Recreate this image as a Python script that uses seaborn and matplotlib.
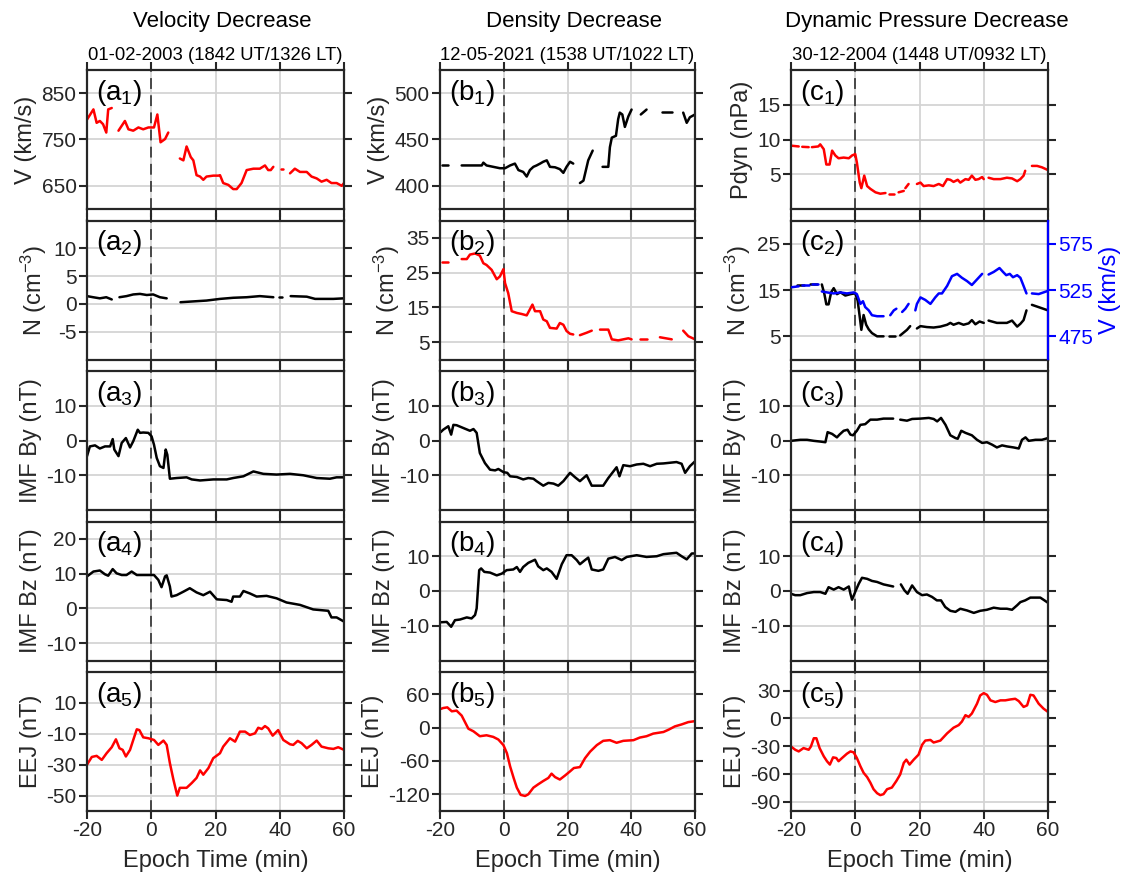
import numpy as np
import pandas as pd
import matplotlib
matplotlib.use("Agg")
import matplotlib.pyplot as plt
import seaborn as sns

nan = np.nan

# ---------------- data (epoch time in min, NaN = data gap) ----------------
# Column a : velocity decrease
t_a1 = [-20, -18, -17, -16, -15, -14, -13.4, -12.3, nan,
        -10.2, -8.2, -7.1, -5.6, -4, -2.5, -0.9, 0.85, 1.9, 2.9, 4.3, 5.3, nan,
        8.9, 10, 11, 12.3, 13.1, 14.1, 15.2, 16.2, 17.2, 19.3, 20.9, 21.4, 22.4, 24, 25.5, 26.6,
        28.1, 29.7, 31.8, 33.8, 35.4, 36.4, 37.2, 38, nan,
        40.3, 40.9, nan,
        43.2, 44.7, 46.3, 48.4, 49.9, 51.5, 53, 54.6, 56.1, 57.7, 59.3, 60]
v_a1 = [793, 815, 786, 790, 783, 765, 815, 818, nan,
        769, 790, 772, 769, 776, 772, 776, 776, 804, 744, 751, 765, nan,
        709, 705, 735, 712, 705, 673, 670, 663, 670, 672, 672, 673, 656, 652, 643, 643,
        656, 684, 687, 687, 694, 684, 684, 691, nan,
        687, 687, nan,
        677, 687, 680, 680, 670, 666, 659, 663, 656, 656, 650, 656]

t_a2 = [-20, -18.1, -16, -14, -12.3, nan,
        -9.9, -7.7, -5.6, -3.5, -1.4, 0.6, 2.7, 4.8, nan,
        9.1, 13.1, 17.2, 21.4, 25.5, 29.7, 33.8, 38, nan,
        39.8, 40.6, nan,
        43.4, 48.4, 51, 56.7, 60]
n_a2 = [1.4, 1.2, 1.0, 1.2, 0.8, nan,
        1.2, 1.4, 1.7, 1.8, 1.6, 1.7, 1.2, 1.0, nan,
        0.3, 0.45, 0.6, 0.9, 1.1, 1.2, 1.4, 1.2, nan,
        1.2, 1.2, nan,
        1.4, 1.3, 0.9, 0.9, 1.0]

t_a3 = [-20, -19.1, -17.5, -16, -14.4, -12.8, -12, -11.5, -10.2, -9.2, -7.9, -6.6, -5.6, -4.2,
        -3.5, -2.5, -0.9, 0.1, 0.85, 1.7, 2.7, 3.8, 4.5, 5, 5.8, 7.9, 11, 12.6, 15.2, 19.3, 23.5,
        25.5, 28.7, 31.8, 34.9, 39, 43.2, 47.3, 51.5, 55.6, 57.7, 60]
by_a3 = [-4.5, -1.7, -1.4, -2.3, -1.7, -1.7, 0.4, -2.6, -4.5, -0.7, 0.7, -2, -0.2, 3.1,
         2.2, 2.3, 2.2, 1.2, -1.2, -5, -7.4, -7.9, -2.6, -4.1, -11, -10.8, -10.6, -11.2, -11.5, -11.2, -11.2,
         -10.8, -10.3, -8.9, -9.6, -9.8, -9.6, -10, -10.8, -11, -10.6, -10.6]

t_a4 = [-20, -18, -16, -14.4, -13.4, -12, -10.8, -9.2, -7.7, -6.1, -4.5, -1.4, 0.85, 2.2, 3.2,
        4.3, 4.8, 5.8, 6.3, 7.9, 10, 12, 14.1, 16.2, 18.3, 20.4, 23.5, 25, 25.5, 27.6, 28.7, 30.7,
        32.8, 35.9, 39, 42.1, 46.3, 50.4, 55.1, 56.1, 57.7, 60]
bz_a4 = [9.2, 10.6, 10.9, 9.8, 9.4, 11.3, 10.1, 9.6, 9.6, 10.6, 9.6, 9.6, 9.6, 8.2, 6.1,
         9.2, 9.5, 6.3, 3.4, 3.8, 4.8, 5.8, 4.6, 3.8, 4.8, 2.6, 2.4, 1.9, 3.4, 3.4, 5, 4.3,
         3.4, 3.6, 2.9, 1.7, 1.0, -0.3, -0.7, -2.6, -2.6, -3.8]

t_a5 = [-20, -18.5, -17, -15.4, -13.9, -12.3, -11, -9.9, -8.9, -7.9, -6.6, -5.6, -4.5, -3.7,
        -2.5, -0.9, 0.85, 2.2, 3.8, 4.8, 5.8, 6.9, 8.1, 8.9, 11, 12.6, 14.1, 15.2, 16.2, 17.8,
        19.3, 21.4, 22.4, 24.5, 26.1, 27.6, 29.2, 30.7, 32.3, 33.3, 34.4, 35.4, 36.4, 37.8,
        39.5, 41.1, 43.2, 44.2, 45.6, 46.8, 48.4, 49.9, 51.5, 53, 55.1, 56.7, 58.2, 60]
eej_a5 = [-30, -25, -24.3, -26.9, -22.6, -18.7, -13.6, -19.4, -20.4, -24.7, -20.4, -14, -7.1, -7.6,
          -12.3, -12.9, -14, -17.2, -14.4, -17.2, -29, -39.7, -50, -45, -45, -41.9, -38.6, -33.7, -36.5, -32.2,
          -25.8, -22.6, -18.3, -12.9, -15.1, -8.6, -8.6, -10.8, -9.7, -6.1, -6.9, -5, -6.5, -11.2,
          -7.6, -14, -16.8, -17.2, -14.6, -16.1, -19.4, -17.2, -14.4, -18.3, -19.4, -19.8, -18.7, -20.4]

# Column b : density decrease
t_b1 = [-19.5, -17.4, nan,
        -13.2, -6.9, -6.4, -5.4, -3.3, -1.2, 0.4, 2, 3.5, 4.6, 6.1, 7.2, 8.2, 9.3, 10.3, 11.4,
        12.4, 13.5, 14.5, 16.1, 17.6, 18.7, 19.7, 20.8, 21.8, nan,
        23.9, 25, 26.5, 27.9, nan,
        31, 32.8, 33.3, 33.9, 35.2, 35.9, 36.4, 37.2, 38, 39.1, 40.1, nan,
        43, 44.8, nan,
        49.5, 52.7, nan,
        56.3, 57.4, 58.4, 60]
v_b1 = [423, 423, nan,
        422, 422, 425, 422, 420.5, 419, 419, 422, 424, 417, 415, 410, 417, 420.5, 422, 424,
        426, 427.5, 420.5, 420, 418, 414, 420.5, 426, 424, nan,
        403, 405.6, 427.5, 438, nan,
        420.5, 420.5, 441.7, 452, 454, 472, 479, 477, 463.6, 475, 482.3, nan,
        477, 482.3, nan,
        480, 480, nan,
        479, 468, 474, 477]

t_b2 = [-19.5, -17.4, nan,
        -13.2, -11.6, -10.6, -9, -7.5, -6.4, -5.4, -3.8, -2.2, -1.2, -0.1, 0.4, 1.4, 2.5, 4.1,
        5.6, 7.2, 9, 9.8, 11.4, 12.4, 13.5, 14.5, 16.6, 17.6, 18.7, 19.7, 20.8, 21.8, nan,
        23.9, 26, 27.6, nan,
        30.2, 32.8, 33.9, 35.9, 37.5, 39.1, 40.1, nan,
        42.7, 44.8, nan,
        49, 52.7, nan,
        56.3, 57.9, 60]
n_b2 = [28, 28, nan,
        28.9, 28.9, 30.2, 30.5, 29.9, 27.7, 27.2, 25.8, 23.1, 23.9, 26, 22, 19.1, 13.9, 13.4,
        13.1, 12.7, 15.8, 13.9, 13.9, 11.5, 11, 9.1, 8.9, 10.5, 10, 8.2, 7.4, 7.2, nan,
        7, 7.7, 8.3, nan,
        8.6, 8.6, 5.8, 5.5, 5.8, 6.1, 5.8, nan,
        5.8, 5.8, nan,
        6.4, 5.8, nan,
        8.3, 6.7, 5.8]

t_b3 = [-19.8, -19, -17.4, -16.5, -15.8, -14.8, -12.7, -10.6, -9.5, -8.5, -7.5, -5.9, -4.3,
        -2.7, -1.7, -0.1, 1.1, 2, 4.1, 6.1, 7.7, 9.3, 10.3, 12.4, 14, 15.6, 17.1, 18.7, 20.8,
        22.4, 23.9, 26, 27.6, 29.2, 31.2, 32.8, 34.4, 35.4, 36.3, 37.5, 39.6, 41.7, 43.8, 45.9,
        48, 50.1, 54.2, 55.8, 56.9, 58.4, 60]
by_b3 = [2.4, 3.1, 4.1, 1.7, 4.5, 4.4, 3.6, 2.8, 3.3, 2.2, -3.6, -6.5, -8.4,
         -8.6, -8.2, -9.1, -9.3, -10.3, -10.5, -11.2, -10.8, -11, -11.7, -13, -12.2, -12.4, -13, -11.7, -9.3,
         -10.6, -11.7, -10, -13, -13, -13, -10.8, -8.9, -7.7, -10.3, -7.1, -7.4, -6.9, -6.7, -7.4,
         -6.7, -6.6, -6.2, -6.7, -9.3, -7.4, -6]

t_b4 = [-19.8, -17.9, -16.5, -15.3, -13.7, -11.6, -10.1, -9, -8.5, -7.7, -7.1, -6.1, -4.3,
        -2.2, -0.6, 0.9, 3, 4.1, 5.1, 6.1, 7.7, 9.8, 10.8, 12.4, 13.5, 15, 16.6, 18.2, 19.7,
        21.3, 22.9, 23.9, 25.5, 26.5, 27.6, 29.7, 31.2, 32.8, 34.9, 37, 38.6, 41.7, 44.8, 48,
        50.1, 54.2, 55.8, 57.4, 59, 60]
bz_b4 = [-9, -8.9, -10.3, -8.4, -8.2, -7.6, -7.9, -6.9, -5, 6, 6.5, 5.5, 5.3,
         4.5, 5, 6, 6.2, 6.9, 5.5, 6.9, 8.1, 9, 7.1, 6, 6.5, 5.5, 3.5, 7.7, 10.3,
         10.3, 8.9, 7.7, 8.9, 9.6, 6.2, 5.8, 6.2, 9.3, 9.8, 8.9, 9.8, 10.3, 9.8, 10,
         10.6, 11, 10, 9.1, 10.8, 10.8]

t_b5 = [-19.8, -19, -17.7, -16.3, -14.8, -13.2, -11.1, -9.5, -7.5, -5.4, -3.3, -1.7, -0.1, 1,
        2, 3.1, 4.1, 5.3, 6.7, 7.7, 9.3, 10.8, 12.4, 14, 15, 16.1, 17.6, 19.2, 20.8, 22, 23.9,
        25.5, 27.1, 29.2, 31.2, 33.3, 35.4, 37.5, 40.7, 42.7, 44.8, 46.9, 50.1, 51.7, 53.7,
        55.8, 57.9, 60]
eej_b5 = [33.5, 35.2, 36.4, 29.3, 30.5, 21.6, -2, -6.7, -15.5, -13.8, -16.7, -21.4, -31.5, -46.2,
          -69.8, -90.5, -108, -121, -123, -120, -108, -102, -96, -90.5, -82.8, -89, -93.4, -86.3,
          -78.7, -72.7, -71, -55, -43.2, -31.5, -23.8, -22.6, -27.3, -23.8, -22.6, -17.9, -15.5,
          -10.8, -7.9, -3.8, 2.2, 5.7, 9.9, 11.6]

# Column c : dynamic pressure decrease
t_c1 = [-19.7, -17.6, nan,
        -16.5, -14.5, nan,
        -13.5, -11.5, -10.9, -9.8, -9, -8, -7.2, -6.2, -5.2, -3.6, -2, -1, 0, 0.5, 1.4, 1.9, 2.8,
        3.7, 4.7, 6.3, 7.8, 9.4, nan,
        10.4, 12, nan,
        13.5, 15.1, nan,
        15.6, 16.6, nan,
        19.2, 20.3, 21.3, 22.9, 24.4, 26, 27.3, 28.6, 29.6, 30.6, 31.9, 32.7, 34.3, 35.3, 36.3,
        37.4, 38.4, 39.5, 40, nan,
        41.5, 43.1, 45.2, 47.2, 48.8, 50.4, 51.4, 52.4, 52.9, nan,
        55, 56.6, 58.1, 60]
p_c1 = [9.1, 9.0, nan,
        8.95, 8.9, nan,
        8.9, 9.0, 9.3, 8.6, 6.4, 6.4, 8.4, 7.7, 7.3, 7.4, 7.3, 7.7, 7.9, 6.7, 3.8, 3.0, 4.8,
        3.3, 2.9, 2.4, 2.2, 2.3, nan,
        2.2, 2.2, nan,
        2.4, 2.6, nan,
        3.0, 3.6, nan,
        3.6, 3.8, 3.3, 3.4, 3.3, 3.6, 3.3, 4.3, 4.2, 3.9, 4.2, 3.8, 4.3, 4.2, 4.8,
        4.2, 4.3, 4.6, 4.3, nan,
        4.5, 4.3, 4.3, 4.5, 4.4, 4.0, 4.3, 4.8, 5.5, nan,
        6.2, 6.2, 6.0, 5.6]

t_c2n = [-18.1, -16.1, nan,
         -14, -12, nan,
         -10.4, -9.6, -9, -8.3, -7.5, -6.7, -5.7, -4.6, -3.1, -1.5, 0, 0.75, 1.4, 1.9, 2.6, 3.4,
         4.2, 5.2, 6.8, 8.8, nan,
         10.4, 12.5, nan,
         14, 16.1, 17.1, nan,
         19.2, 20.3, 22.3, 24.4, 26.5, 28.6, 29.6, 30.6, 32.2, 33.7, 35.3, 36.3, 37.4, 38.7, 40, nan,
         41.5, 44.1, 47.2, 48.8, 50.4, 51.4, 52.4, 53.3, nan,
         55, 57.1, 60]
n_c2 = [16.1, 16.1, nan,
        16.4, 16.4, nan,
        16.2, 14.1, 11.9, 11.9, 14.5, 15.4, 14.1, 14.5, 13.8, 14.1, 14.3, 12.7, 9.2, 6.4, 9.6, 7.5,
        6.5, 5.7, 5.0, 5.0, nan,
        5.0, 5.0, nan,
        5.2, 6.4, 7.2, nan,
        6.7, 7.2, 7.0, 6.9, 7.1, 7.5, 7.9, 7.5, 7.9, 7.5, 7.8, 8.5, 7.6, 8.2, 7.9, nan,
        8.4, 7.9, 7.9, 8.4, 7.1, 7.7, 8.5, 10.6, nan,
        11.8, 11.3, 10.6]

t_c2v = [-19.7, -17.6, nan,
         -16.5, -14.5, nan,
         -13.5, -11.5, nan,
         -10.4, -8.8, -6.7, -4.6, -2.6, -0.5, 0.5, 1.6, 2.4, 3.1, 4.2, 5.2, 6.8, 8.8, nan,
         10.9, 12, 12.8, nan,
         14.6, 15.6, 16.6, nan,
         18.7, 19.2, 20.3, 21.8, 23.4, 24.9, 26, 27, 28.6, 30.1, 31.7, 33.2, 34.8, 36.3, 37.9, 39.5, nan,
         41.5, 43.1, 44.9, 46, 47, 48.1, 49.1, 50.4, 51.4, 52.4, 53.3, nan,
         55, 57.1, 58.6, 60]
v_c2 = [528, 529, nan,
        530, 530, nan,
        531, 531, nan,
        523.4, 522.4, 521.3, 522.4, 521.3, 522.4, 520.6, 510, 512.9, 506.6, 503, 497.8, 496.7, 496.7, nan,
        497.8, 503, 504.8, nan,
        501.3, 504.8, 510, nan,
        503, 510, 517, 514.3, 510, 517, 521.3, 521.3, 529.4, 539.9, 542.4, 538.2, 534.6, 530.4, 536.4, 542.4, nan,
        541.7, 544.5, 548.7, 544.5, 541, 542.4, 538.8, 541, 538.2, 529.4, 521.3, nan,
        521.3, 520.6, 522.4, 524.1]

t_c3 = [-20, -17.1, -15, -12.9, -10.9, -9.3, -8.6, -7.2, -5.7, -4.9, -3.6, -2.4, -1.5, -0.7, 0.5,
        1.6, 3.1, 4.7, 6.8, 8.8, 11.8, nan,
        14, 16.1, 17.7, 20.3, 22.9, 24.4, 25.5, 26.7, 28.1, 29.6, 31.2, 31.9, 33, 34.3, 36.3, 37.9,
        39.5, 41, 42.6, 44.1, 45.7, 47.2, 49.3, 50.9, 51.9, 53, 54, 56.1, 58.1, 60]
by_c3 = [-0.1, 0.2, 0.2, -0.1, -0.3, -0.5, 2.4, 1.9, 0.9, 1.7, 2.8, 3.1, 1.7, 1.5, 2.8,
         4.5, 4.7, 6, 6, 6.3, 6.3, nan,
         6, 5.7, 6.2, 6.3, 6.5, 6.2, 5.5, 6.5, 4.5, 1.5, 0.7, 0.5, 2.8, 2.2, 1.5, 0.2,
         -0.7, -0.5, -1.2, -2, -1.4, -1.7, -2, -2.3, 0.2, 0.9, -0.1, 0.2, 0.2, 0.7]

t_c4 = [-20, -18.7, -17.1, -15, -12.9, -10.9, -9.3, -8.3, -6.7, -5.2, -3.6, -2, -1.5, -1, 0.1,
        1.1, 2.1, 3.7, 5.2, 6.8, 8.8, 11.8, nan,
        14.2, 15.3, 16.3, 17.7, 19.2, 20.8, 22.3, 23.9, 25.4, 26.7, 28, 29.6, 31.2, 32.7, 34.8,
        36.9, 38.9, 41, 43.1, 45.2, 47.2, 48.8, 50.4, 51.4, 52.9, 54.5, 56.1, 57.6, 58.9, 60]
bz_c4 = [-0.8, -1.2, -1.2, -0.6, -0.3, -0.3, -0.8, 1.1, 0.4, 1.1, 0.4, 1.3, -0.8, -2.5, 0,
         2.1, 3.8, 3.5, 2.9, 2.6, 1.9, 1.3, nan,
         1.9, 0.2, -0.8, 1.6, -0.3, -1.2, -1, -1.7, -2.7, -2.7, -4.6, -5.7, -6, -5.1, -5.6,
         -6.3, -5.7, -5.4, -4.8, -5.1, -5.1, -5.4, -4.1, -3.2, -2.7, -1.9, -1.9, -1.9, -2.7, -3.4]

t_c5 = [-20, -18.7, -17.6, -16.1, -14.5, -13.8, -12.9, -12.1, -11.1, -9.8, -8.8, -7.9, -6.9,
        -5.9, -5.2, -4.1, -2.6, -1.5, -0.5, 0.5, 1.6, 2.6, 3.7, 4.7, 5.7, 6.8, 7.8, 8.8, 9.9,
        11.4, 12.8, 14, 15.1, 15.9, 16.9, 18.2, 19.7, 20.8, 21.8, 23.4, 24.4, 26.5, 28.6, 30.6,
        32.2, 33.2, 34.3, 35.3, 36.3, 37.9, 38.9, 40, 41, 42.1, 43.6, 45.2, 46.7, 48.3, 49.8,
        50.9, 52.4, 53.5, 54.5, 55.5, 57.1, 58.6, 60]
eej_c5 = [-30.4, -33.9, -35.7, -32.1, -33.9, -30.4, -21.5, -21.5, -32.1, -41, -46.3, -49.9, -42.1,
          -42.8, -46.3, -42.8, -38.2, -35.7, -36.7, -42.8, -51.7, -58.8, -63.4, -69.4, -76.5, -80.8,
          -82.9, -81.8, -76.5, -74.7, -67.6, -60.5, -48.1, -44.6, -49.9, -44.6, -39.2, -28.6, -24,
          -23.3, -26.1, -24, -16.2, -10.1, -7.3, -3.5, 3.4, 1.6, 5.2, 15.8, 24.7, 27.2, 25.4, 19.4,
          17.6, 19.4, 19.4, 20.4, 21.1, 18.6, 12.3, 14, 25.4, 24.7, 15.8, 10.5, 6.9]

col_titles = ["Velocity Decrease", "Density Decrease", "Dynamic Pressure Decrease"]
col_dates = ["01-02-2003 (1842 UT/1326 LT)", "12-05-2021 (1538 UT/1022 LT)",
             "30-12-2004 (1448 UT/0932 LT)"]
x_ticks = [-20, 0, 20, 40, 60]

# ---------------- style ----------------
sns.set_style("white")
plt.rcParams["font.family"] = ["Liberation Sans", "DejaVu Sans"]
plt.rcParams["mathtext.fontset"] = "custom"
plt.rcParams["mathtext.rm"] = "Liberation Sans"
plt.rcParams["mathtext.it"] = "Liberation Sans:italic"
plt.rcParams["mathtext.default"] = "regular"
plt.rcParams["axes.unicode_minus"] = False

DARK = "#262626"
RED = "#ff0000"
BLUE = "#0000ff"


def frame(t, v):
    t = np.asarray(t, float)
    v = np.asarray(v, float)
    assert len(t) == len(v), (len(t), len(v))
    seg = np.cumsum(np.isnan(v))
    return pd.DataFrame({"t": t, "v": v, "seg": seg}).dropna()


def draw(ax, t, v, color):
    sns.lineplot(data=frame(t, v), x="t", y="v", units="seg", estimator=None,
                 sort=False, color=color, lw=1.8, ax=ax, legend=False)


panels = [
    # column a
    [dict(s=[(t_a1, v_a1, RED)], ylim=(600, 900), yt=[650, 750, 850], yl="V (km/s)"),
     dict(s=[(t_a2, n_a2, "black")], ylim=(-10, 15), yt=[-5, 0, 5, 10], yl="N (cm$^{-3}$)"),
     dict(s=[(t_a3, by_a3, "black")], ylim=(-20, 20), yt=[-10, 0, 10], yl="IMF By (nT)"),
     dict(s=[(t_a4, bz_a4, "black")], ylim=(-15, 25), yt=[-10, 0, 10, 20], yl="IMF Bz (nT)"),
     dict(s=[(t_a5, eej_a5, RED)], ylim=(-60, 30), yt=[-50, -30, -10, 10], yl="EEJ (nT)")],
    # column b
    [dict(s=[(t_b1, v_b1, "black")], ylim=(375, 525), yt=[400, 450, 500], yl="V (km/s)"),
     dict(s=[(t_b2, n_b2, RED)], ylim=(0, 40), yt=[5, 15, 25, 35], yl="N (cm$^{-3}$)"),
     dict(s=[(t_b3, by_b3, "black")], ylim=(-20, 20), yt=[-10, 0, 10], yl="IMF By (nT)"),
     dict(s=[(t_b4, bz_b4, "black")], ylim=(-20, 20), yt=[-10, 0, 10], yl="IMF Bz (nT)"),
     dict(s=[(t_b5, eej_b5, RED)], ylim=(-150, 100), yt=[-120, -60, 0, 60], yl="EEJ (nT)")],
    # column c
    [dict(s=[(t_c1, p_c1, RED)], ylim=(0, 20), yt=[5, 10, 15], yl="Pdyn (nPa)"),
     dict(s=[(t_c2n, n_c2, "black")], ylim=(0, 30), yt=[5, 15, 25], yl="N (cm$^{-3}$)"),
     dict(s=[(t_c3, by_c3, "black")], ylim=(-20, 20), yt=[-10, 0, 10], yl="IMF By (nT)"),
     dict(s=[(t_c4, bz_c4, "black")], ylim=(-20, 20), yt=[-10, 0, 10], yl="IMF Bz (nT)"),
     dict(s=[(t_c5, eej_c5, RED)], ylim=(-100, 50), yt=[-90, -60, -30, 0, 30], yl="EEJ (nT)")],
]

W, H = 1131, 882
fig = plt.figure(figsize=(W / 100, H / 100), dpi=100)
col_left = [87, 440, 791]
col_w = [257, 255, 257]
row_top = [70, 220.5, 371, 521.5, 672]
row_h = 139
letters = "abc"

for c in range(3):
    for r in range(5):
        p = panels[c][r]
        ax = fig.add_axes([col_left[c] / W, 1 - (row_top[r] + row_h) / H,
                           col_w[c] / W, row_h / H])
        ax.set_axisbelow(True)
        for (t, v, colr) in p["s"]:
            draw(ax, t, v, colr)
        ax.set_xlim(-20, 60)
        ax.set_ylim(*p["ylim"])
        ax.set_xticks(x_ticks)
        ax.set_yticks(p["yt"])
        ax.grid(True, color="#d4d4d4", lw=1.3)
        ax.axvline(0, color="#3c3c3c", lw=1.3, ls=(0, (6, 3.5)), zorder=1.8)
        ax.tick_params(axis="both", direction="out", length=5.5, width=1.5,
                       top=True, bottom=True, left=True, right=True,
                       labelsize=15, colors=DARK, pad=2,
                       labelbottom=(r == 4))
        for sp in ax.spines.values():
            sp.set_linewidth(1.6)
            sp.set_color(DARK)
        ax.set_ylabel(p["yl"], fontsize=17, color=DARK, labelpad=3)
        if r == 4:
            ax.set_xlabel("Epoch Time (min)", fontsize=17, color=DARK, labelpad=7)
        else:
            ax.set_xlabel("")
        ax.text(0.035, 0.945, "(%s$_%d$)" % (letters[c], r + 1), transform=ax.transAxes,
                ha="left", va="top", fontsize=20, color="black", zorder=5)

        if c == 2 and r == 1:
            ax.tick_params(axis="y", right=False)
            ax2 = ax.twinx()
            draw(ax2, t_c2v, v_c2, BLUE)
            ax2.set_ylim(450, 600)
            ax2.set_yticks([475, 525, 575])
            ax2.set_xlim(-20, 60)
            ax2.grid(False)
            ax2.tick_params(axis="y", direction="out", length=5.5, width=1.5,
                            right=True, left=False,
                            labelsize=15, colors=BLUE, pad=2)
            for sp in ax2.spines.values():
                sp.set_visible(False)
            ax2.spines["right"].set_visible(True)
            ax2.spines["right"].set_color(BLUE)
            ax2.spines["right"].set_linewidth(1.6)
            ax2.set_ylabel("V (km/s)", fontsize=17, color=BLUE, labelpad=4)
            ax2.set_xlabel("")

    xc = (col_left[c] + col_w[c] / 2) / W
    fig.text(xc + 7 / W, 1 - 22 / H, col_titles[c], ha="center", va="center",
             fontsize=16, color="black")
    fig.text(xc, 1 - 55 / H, col_dates[c], ha="center", va="center",
             fontsize=13.3, color="black")

fig.savefig("out.png", dpi=100)
